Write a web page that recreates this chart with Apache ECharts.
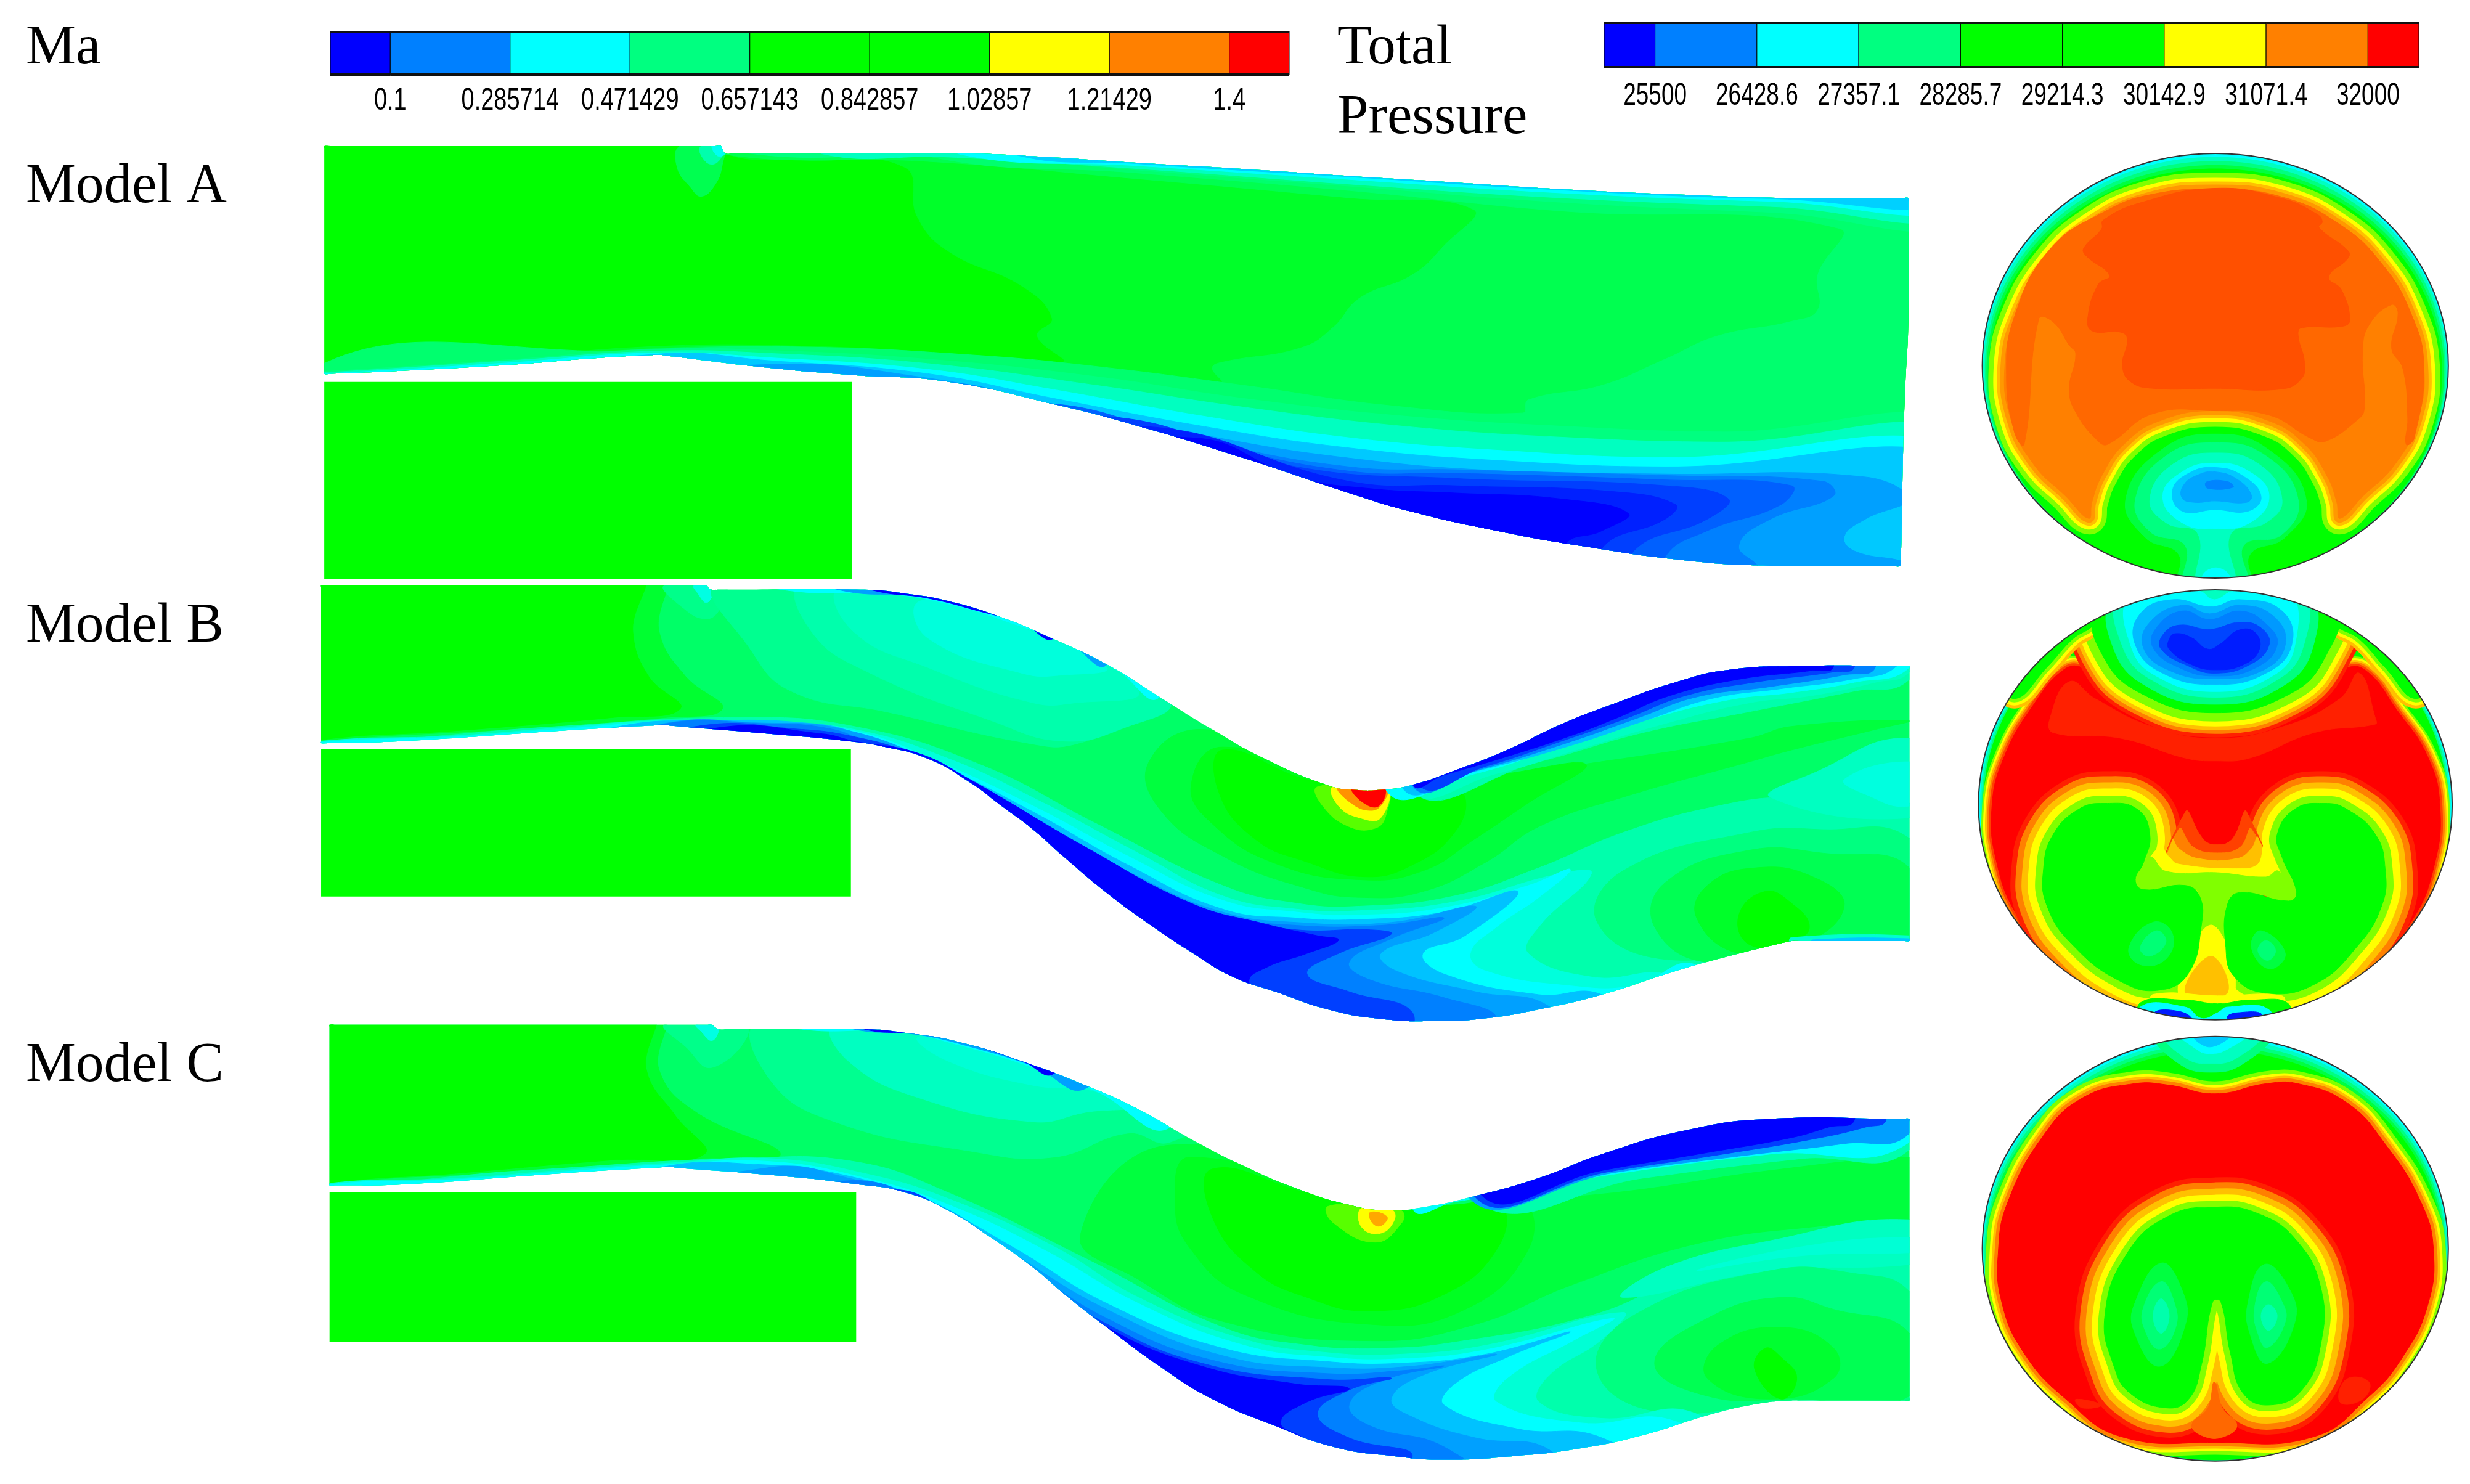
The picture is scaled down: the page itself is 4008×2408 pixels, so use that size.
<!DOCTYPE html>
<html>
<head>
<meta charset="utf-8">
<style>html,body{margin:0;background:#fff}#chart{width:4008px;height:2408px}</style>
<script src="https://cdn.jsdelivr.net/npm/echarts@6/dist/echarts.min.js"></script>
</head>
<body>
<div id="chart"></div>
<script>
// colour bars
var maTicks = [0.1, 0.285714, 0.471429, 0.657143, 0.842857, 1.02857, 1.21429, 1.4];
var ptTicks = [25500, 26428.6, 27357.1, 28285.7, 29214.3, 30142.9, 31071.4, 32000];
var barColors = ['#0000ff', '#0080ff', '#00ffff', '#00ff80', '#00ff00', '#00ff00', '#ffff00', '#ff8000', '#ff0000'];
var barValuesMa = [0.1, 0.193, 0.379, 0.564, 0.75, 0.936, 1.121, 1.307, 1.4];
var barValuesPt = [25500, 25964, 26893, 27821, 28750, 29678, 30607, 31536, 32000];
var panelLabels = [['Ma', 42, 34], ['Model A', 42, 259], ['Model B', 42, 972], ['Model C', 42, 1685], ['Total', 2170, 34], ['Pressure', 2170, 147]];

// Model A, Mach number: [Ma, contour]
var ductAWall = [[27,64],[27,57],[33,57],[398,57],[404,57],[405,66],[408,82],[416,82],[630,82],[700,92],[800,115],[900,136],[1000,160],[1100,182],[1200,205],[1300,222],[1420,236],[1525,236],[1531,236],[1531,250],[1531,650],[1528,890],[1526,1100],[1524,1480],[1523,1500],[1515,1500],[1400,1500],[1320,1482],[1220,1432],[1140,1380],[1060,1315],[1000,1250],[900,1130],[800,1020],[720,945],[620,868],[530,845],[450,820],[352,778],[345,775],[338,776],[290,785],[200,810],[100,830],[33,840],[27,840],[27,826]];
var ductAInlet = [[27,868],[528,868],[528,1545],[27,1545]];
var ductABands = [
  [0.8, [[0,0],[1600,0],[1600,1600],[0,1600]]],
  [0.69, [[408,82],[480,105],[578,130],[590,300],[620,420],[690,540],[718,650],[704,710],[728,800],[620,770],[480,745],[350,745],[200,785],[60,830],[0,900],[0,1600],[1600,1600],[1600,0],[408,0]]],
  [0.634, [[400,82],[600,110],[800,170],[1000,235],[1118,275],[1090,400],[1060,500],[1010,580],[985,680],[955,750],[880,800],[870,820],[878,870],[760,820],[640,780],[480,752],[350,752],[200,795],[60,838],[0,900],[0,1600],[1600,1600],[1600,0],[400,0]]],
  [0.59, [[600,0],[600,92],[800,150],[1000,210],[1200,280],[1465,340],[1445,500],[1445,620],[1420,660],[1350,710],[1300,790],[1240,880],[1170,930],[1165,975],[1040,950],[900,880],[760,815],[640,775],[480,748],[350,758],[0,860],[0,1600],[1600,1600],[1600,0]]],
  [0.564, [[430,0],[430,82],[620,88],[800,140],[1000,195],[1200,250],[1400,285],[1600,318],[1600,0]]],
  [0.471, [[500,0],[500,84],[620,95],[800,135],[1000,188],[1200,235],[1400,265],[1600,290],[1600,0]]],
  [0.379, [[630,0],[630,85],[800,125],[1000,172],[1200,218],[1400,247],[1600,262],[1600,0]]],
  [0.31, [[680,0],[680,84],[800,118],[1000,163],[1200,208],[1400,238],[1600,240],[1600,0]]],
  [0.564, [[27,832],[200,792],[345,755],[450,760],[600,790],[760,850],[900,925],[1050,985],[1200,1020],[1350,1040],[1600,1040],[1600,1600],[0,1600],[0,842],[0,832]]],
  [0.471, [[27,836],[200,796],[345,762],[450,770],[600,805],[760,880],[900,955],[1050,1020],[1200,1058],[1350,1075],[1600,1070],[1600,1600],[0,1600],[0,846],[0,836]]],
  [0.379, [[27,840],[200,803],[345,768],[450,785],[600,825],[720,895],[860,985],[1000,1060],[1150,1105],[1300,1128],[1600,1115],[1600,1600],[0,1600],[0,850],[0,840]]],
  [0.3, [[345,772],[450,795],[600,840],[720,925],[860,1020],[1000,1095],[1150,1140],[1300,1160],[1600,1150],[1600,1600],[0,1600],[0,930],[0,920]]],
  [0.24, [[450,808],[600,855],[720,945],[860,1050],[1000,1130],[1150,1175],[1300,1185],[1490,1195],[1530,1270],[1490,1340],[1470,1400],[1480,1450],[1530,1490],[1600,1600],[0,1600],[0,940],[0,930]]],
  [0.193, [[600,868],[720,950],[860,1070],[1000,1160],[1100,1170],[1300,1190],[1450,1210],[1460,1260],[1400,1340],[1370,1430],[1390,1510],[1400,1600],[0,1600],[0,960],[0,950]]],
  [0.17, [[700,940],[860,1075],[1000,1175],[1100,1182],[1300,1205],[1420,1225],[1410,1290],[1340,1380],[1300,1470],[1300,1600],[0,1600],[0,990],[0,980]]],
  [0.146, [[760,985],[950,1160],[1100,1200],[1300,1225],[1360,1270],[1340,1340],[1270,1450],[1270,1600],[0,1600],[0,1010],[0,1000]]],
  [0.123, [[800,1020],[1000,1210],[1100,1225],[1250,1245],[1310,1290],[1300,1340],[1240,1440],[1240,1600],[0,1600],[0,1050],[0,1040]]],
  [0.1, [[850,1060],[950,1195],[1020,1235],[1100,1250],[1200,1270],[1265,1320],[1240,1380],[1205,1430],[1205,1600],[0,1600],[0,1070],[0,1060]]],
  [0.634, [[365,57],[362,130],[375,200],[385,230],[398,190],[405,120],[405,57]]],
  [0.5, [[385,57],[385,90],[395,120],[405,90],[405,57]]],
  [0.4, [[395,50],[404,50],[408,82],[400,90]]]
];

// Model B, Mach number
var ductBWall = [[24,48],[24,42],[30,42],[385,42],[390,42],[392,50],[395,56],[402,56],[540,56],[580,70],[620,95],[670,150],[720,225],[770,310],[820,420],[870,530],[920,630],[980,720],[1005,735],[1030,735],[1060,718],[1100,670],[1150,600],[1200,515],[1250,445],[1310,370],[1360,328],[1430,315],[1526,315],[1532,315],[1532,325],[1532,1238],[1532,1248],[1526,1248],[1428,1248],[1420,1248],[1412,1254],[1360,1300],[1310,1350],[1240,1430],[1180,1480],[1130,1510],[1080,1520],[1030,1512],[980,1480],[930,1420],[890,1370],[850,1285],[810,1190],[770,1085],[730,965],[700,870],[670,790],[640,710],[600,630],[560,590],[525,570],[450,545],[357,518],[350,515],[343,516],[250,535],[100,570],[30,577],[24,577],[24,570]];
var ductBInlet = [[24,598],[527,598],[527,1097],[24,1097]];
var ductBBands = [
  [0.6, [[0,0],[1600,0],[1600,1600],[0,1600]]],
  [0.68, [[0,0],[345,0],[345,200],[370,350],[405,460],[350,490],[200,530],[24,570],[0,600]]],
  [0.75, [[0,0],[325,0],[320,200],[335,350],[365,460],[300,490],[150,535],[24,565],[0,600]]],
  [0.55, [[350,42],[365,110],[390,155],[405,110],[410,56]]],
  [0.42, [[378,42],[392,42],[396,62],[390,100],[382,70]]],
  [0.54, [[400,40],[430,250],[470,400],[560,470],[700,580],[740,580],[810,480],[840,420],[800,330],[600,40]]],
  [0.5, [[480,40],[490,200],[540,330],[660,500],[730,570],[790,520],[830,440],[760,290],[640,40]]],
  [0.47, [[515,50],[530,200],[600,320],[700,440],[740,440],[800,400],[700,170],[600,60]]],
  [0.43, [[590,100],[600,220],[690,340],[730,345],[770,320],[700,200],[640,120]]],
  [0.66, [[860,530],[810,640],[820,800],[880,960],[960,1070],[1010,1100],[1070,1080],[1130,980],[1180,860],[1260,760],[1380,640],[1420,600],[1500,530],[1532,500],[1420,520],[1380,560],[1220,650],[1060,730],[960,650]]],
  [0.71, [[880,590],[850,720],[870,850],[930,985],[1010,1040],[1070,1010],[1120,900],[1170,780],[1225,650],[1150,680],[1060,730]]],
  [0.75, [[880,600],[876,740],[910,900],[960,980],[1015,1030],[1060,990],[1100,880],[1110,760],[1090,740],[1040,735],[960,700]]],
  [1.0, [[970,725],[975,790],[1000,860],[1025,865],[1035,820],[1035,725]]],
  [1.12, [[985,725],[990,790],[1010,830],[1030,830],[1035,725]]],
  [1.28, [[990,725],[1000,775],[1020,805],[1032,780],[1035,725]]],
  [1.4, [[1003,725],[1012,775],[1028,790],[1033,725]]],
  [0.5, [[420,490],[530,520],[650,650],[760,850],[880,1060],[950,1120],[1010,1130],[1100,1095],[1180,1000],[1260,880],[1350,790],[1420,760],[1532,780],[1600,780],[1600,1600],[0,1600],[0,610],[0,600],[150,548],[250,520]]],
  [0.47, [[1532,560],[1440,680],[1400,760],[1532,830],[1600,700]]],
  [0.425, [[1532,640],[1470,700],[1490,750],[1532,790],[1600,700]]],
  [0.564, [[1380,880],[1260,1010],[1235,1180],[1300,1310],[1420,1250],[1532,1248],[1600,1250],[1532,900],[1450,870]]],
  [0.63, [[1380,940],[1300,1050],[1290,1200],[1340,1320],[1420,1250],[1532,1240],[1532,1000],[1450,950]]],
  [0.69, [[1385,1000],[1340,1060],[1330,1170],[1370,1290],[1430,1260],[1470,1130],[1440,1030]]],
  [0.75, [[1395,1080],[1370,1160],[1380,1260],[1420,1250],[1437,1200],[1420,1120]]],
  [0.43, [[24,570],[150,552],[250,525],[350,500],[450,508],[530,530],[620,630],[710,780],[800,950],[880,1095],[950,1140],[1010,1145],[1100,1115],[1200,1020],[1230,1020],[1180,1200],[1170,1290],[1230,1370],[1310,1370],[1400,1600],[0,1600],[0,610],[0,600]]],
  [0.379, [[24,574],[150,556],[250,530],[350,506],[450,515],[530,535],[610,640],[700,790],[790,960],[880,1110],[950,1150],[1010,1160],[1090,1135],[1170,1060],[1210,1005],[1180,1100],[1140,1200],[1115,1290],[1130,1350],[1210,1400],[1270,1400],[1330,1330],[1400,1600],[0,1600],[0,610],[0,600]]],
  [0.29, [[300,525],[400,500],[490,510],[530,540],[610,650],[700,810],[790,990],[880,1140],[950,1170],[1010,1175],[1090,1150],[1160,1080],[1110,1230],[1070,1290],[1090,1360],[1180,1430],[1240,1430],[1300,1600],[0,1600],[0,810],[0,800]]],
  [0.24, [[350,510],[440,508],[520,530],[610,650],[700,830],[800,1030],[880,1150],[950,1185],[1040,1185],[1120,1130],[1080,1220],[1030,1290],[1045,1350],[1120,1420],[1190,1470],[1200,1600],[0,1600],[0,810],[0,800]]],
  [0.193, [[350,512],[440,510],[510,530],[550,590],[620,670],[700,850],[800,1050],[880,1160],[950,1195],[1030,1195],[1090,1170],[1040,1240],[1000,1320],[1020,1380],[1090,1440],[1140,1510],[1100,1600],[0,1600],[0,810],[0,800]]],
  [0.146, [[380,520],[480,530],[530,555],[580,605],[625,680],[690,830],[790,1060],[870,1160],[950,1210],[1020,1210],[1040,1225],[990,1290],[960,1360],[1000,1420],[1060,1490],[1040,1600],[0,1600],[0,810],[0,800]]],
  [0.1, [[400,525],[500,545],[530,570],[590,610],[640,700],[750,930],[850,1120],[920,1190],[970,1230],[990,1245],[960,1290],[920,1340],[905,1390],[930,1600],[0,1600],[0,810],[0,800]]],
  [0.5, [[1060,735],[1180,640],[1280,540],[1380,470],[1480,400],[1532,360],[1600,0],[1030,0]]],
  [0.47, [[1060,732],[1140,680],[1220,595],[1300,510],[1380,440],[1440,415],[1500,370],[1532,335],[1600,0],[1030,0]]],
  [0.379, [[1035,735],[1120,680],[1200,590],[1280,500],[1360,430],[1420,405],[1480,370],[1532,320],[1600,0],[1000,0]]],
  [0.29, [[1050,725],[1120,672],[1210,585],[1285,495],[1345,425],[1410,392],[1480,358],[1520,315],[1600,0],[1000,0]]],
  [0.193, [[1060,720],[1125,665],[1205,578],[1275,490],[1330,420],[1400,385],[1470,345],[1500,315],[1500,0],[1000,0]]],
  [0.146, [[1065,712],[1130,655],[1200,572],[1265,490],[1320,415],[1385,370],[1460,335],[1480,315],[1480,0],[1000,0]]],
  [0.1, [[1060,715],[1090,685],[1150,622],[1210,552],[1255,490],[1305,415],[1370,360],[1440,330],[1460,315],[1460,0],[1000,0]]],
  [0.379, [[470,60],[560,70],[620,105],[680,170],[730,240],[780,330],[820,420],[880,0],[400,0]]],
  [0.24, [[520,60],[590,78],[640,115],[690,175],[735,240],[770,310],[800,0],[480,0]]],
  [0.1, [[550,60],[600,85],[650,130],[690,170],[720,220],[760,0],[500,0]]],
  [0.45, [[1420,1236],[1532,1230],[1600,1260],[1420,1260]]],
  [0.3, [[1440,1244],[1532,1240],[1600,1260],[1440,1260]]]
];

// Model C, Mach number
var ductCWall = [[32,54],[32,47],[38,47],[390,47],[395,47],[398,55],[402,62],[410,62],[540,62],[580,75],[630,105],[690,170],[750,250],[800,330],[850,430],[900,520],[950,595],[1000,650],[1035,668],[1070,658],[1120,620],[1180,560],[1240,480],[1320,400],[1400,362],[1526,362],[1532,362],[1532,372],[1532,1295],[1532,1305],[1526,1305],[1428,1305],[1420,1305],[1390,1315],[1340,1355],[1280,1420],[1220,1465],[1160,1490],[1090,1503],[1040,1490],[985,1460],[930,1390],[870,1300],[820,1190],[770,1060],[730,950],[700,860],[660,760],[620,670],[580,610],[530,580],[450,550],[362,526],[355,523],[348,524],[250,545],[100,582],[38,585],[32,585],[32,578]];
var ductCInlet = [[32,607],[532,607],[532,1110],[32,1110]];
var ductCBands = [
  [0.6, [[0,0],[1600,0],[1600,1600],[0,1600]]],
  [0.68, [[0,0],[345,0],[345,200],[380,340],[460,480],[380,495],[200,540],[32,580],[0,620]]],
  [0.75, [[0,0],[335,0],[333,200],[360,350],[388,480],[300,500],[150,545],[32,578],[0,620]]],
  [0.55, [[350,47],[370,120],[395,190],[430,70],[405,47]]],
  [0.42, [[380,47],[400,47],[402,62],[395,100],[385,70]]],
  [0.54, [[440,40],[450,230],[510,370],[640,470],[720,490],[790,410],[830,440],[880,300],[700,40]]],
  [0.47, [[510,50],[525,170],[590,290],[700,372],[750,340],[800,310],[700,130],[600,60]]],
  [0.44, [[590,90],[620,170],[700,250],[745,260],[770,280],[700,170],[640,110]]],
  [0.66, [[830,450],[745,750],[800,900],[880,1040],[1020,1105],[1120,1050],[1210,920],[1330,780],[1450,720],[1532,700],[1600,500],[1532,490],[1400,535],[1250,610],[1100,650],[1040,668]]],
  [0.7, [[850,490],[835,650],[850,800],[900,950],[1020,1050],[1110,1000],[1170,800],[1165,640],[1100,650],[1040,668]]],
  [0.75, [[870,530],[870,690],[910,870],[960,960],[1020,1005],[1090,950],[1140,800],[1145,655],[1100,650],[1040,668],[960,610]]],
  [1.0, [[980,655],[985,710],[1025,775],[1050,710],[1050,670],[1030,660]]],
  [1.12, [[1012,660],[1012,725],[1030,745],[1043,700],[1040,665]]],
  [1.25, [[1020,675],[1022,710],[1030,720],[1036,690]]],
  [0.5, [[420,495],[530,505],[620,610],[750,830],[880,1060],[960,1120],[1030,1130],[1100,1110],[1230,1020],[1330,880],[1450,800],[1532,760],[1600,760],[1600,1600],[0,1600],[0,630],[0,620],[150,555],[250,528]]],
  [0.47, [[1532,700],[1400,770],[1300,860],[1260,960],[1400,870],[1532,850],[1600,800]]],
  [0.44, [[1532,760],[1430,790],[1330,870],[1430,820],[1532,810],[1600,790]]],
  [0.564, [[1400,870],[1270,1020],[1235,1200],[1290,1340],[1420,1305],[1532,1305],[1600,1305],[1532,940],[1480,880]]],
  [0.63, [[1410,960],[1340,1030],[1290,1180],[1340,1290],[1420,1300],[1532,1290],[1532,1080],[1460,1000]]],
  [0.68, [[1410,1060],[1350,1120],[1340,1230],[1400,1300],[1460,1230],[1460,1130]]],
  [0.75, [[1395,1130],[1385,1200],[1410,1300],[1425,1230],[1410,1160]]],
  [0.44, [[32,578],[150,562],[250,535],[355,510],[450,495],[540,545],[620,630],[720,790],[800,960],[900,1100],[980,1145],[1050,1150],[1130,1120],[1260,1010],[1240,1100],[1190,1220],[1180,1310],[1240,1365],[1330,1350],[1400,1600],[0,1600],[0,630],[0,620]]],
  [0.379, [[32,582],[150,566],[250,540],[355,515],[450,505],[540,560],[620,650],[710,800],[800,980],[900,1120],[980,1160],[1050,1165],[1130,1135],[1250,1030],[1215,1100],[1150,1230],[1140,1310],[1220,1380],[1310,1375],[1400,1600],[0,1600],[0,630],[0,620]]],
  [0.29, [[350,522],[440,515],[520,550],[600,640],[680,790],[770,980],[880,1130],[980,1175],[1050,1180],[1130,1150],[1210,1075],[1150,1160],[1100,1250],[1090,1320],[1160,1400],[1240,1430],[1300,1600],[0,1600],[0,810],[0,800]]],
  [0.24, [[450,525],[530,565],[610,650],[680,810],[770,1000],[880,1155],[980,1195],[1060,1190],[1140,1150],[1070,1220],[1040,1300],[1060,1360],[1120,1430],[1190,1470],[1200,1600],[0,1600],[0,830],[0,820]]],
  [0.193, [[520,570],[620,690],[690,850],[770,1030],[870,1170],[980,1215],[1050,1205],[1090,1190],[1030,1240],[1000,1320],[1020,1390],[1090,1460],[1130,1600],[0,1600],[0,860],[0,850]]],
  [0.146, [[560,600],[630,700],[700,880],[760,1030],[860,1180],[980,1235],[1040,1230],[1000,1270],[970,1350],[1000,1430],[1060,1490],[1000,1600],[0,1600],[0,870],[0,860]]],
  [0.1, [[610,680],[660,780],[710,900],[770,1060],[860,1190],[950,1250],[1000,1265],[960,1310],[935,1380],[960,1450],[960,1600],[0,1600],[0,890],[0,880]]],
  [0.5, [[1120,640],[1280,560],[1430,495],[1532,465],[1600,0],[1030,0]]],
  [0.379, [[1060,660],[1100,640],[1250,548],[1400,480],[1532,440],[1600,0],[1030,0]]],
  [0.24, [[1115,630],[1250,543],[1370,487],[1470,445],[1532,410],[1600,0],[1100,0]]],
  [0.146, [[1120,625],[1245,540],[1350,483],[1440,430],[1490,390],[1510,362],[1510,0],[1100,0]]],
  [0.1, [[1125,615],[1240,535],[1340,475],[1420,425],[1455,390],[1480,362],[1480,0],[1100,0]]],
  [0.379, [[480,62],[570,70],[630,115],[700,190],[760,270],[830,390],[880,0],[400,0]]],
  [0.24, [[530,62],[590,80],[640,120],[700,185],[750,260],[800,0],[480,0]]],
  [0.1, [[540,62],[590,78],[635,108],[690,170],[720,210],[760,0],[500,0]]]
];

// section outlines and wall layers: [total pressure, cx, cy, rx, ry]
var sectionAWall = [[26893,793,770,723,730],[27357,793,776,720,724],[27821,793,783,715,717],[28285,793,790,710,710],[28750,793,796,704,704]];
var sectionBWall = [[26893,793,775,735,760],[27357,793,775,730,758],[27821,793,775,725,755],[28750,793,775,720,752]];
var sectionCWall = [[26893,793,765,723,740],[27357,793,770,720,734],[27821,793,776,716,727],[28285,793,782,712,720],[28750,793,788,708,714]];

// section A contours
var rimA = [[793,162],[1000,190],[1180,285],[1310,420],[1400,590],[1440,770],[1420,960],[1350,1110],[1250,1220],[1180,1295],[1170,1240],[1140,1150],[1070,1040],[960,960],[793,925],[620,960],[510,1040],[440,1150],[410,1240],[400,1295],[330,1220],[230,1110],[160,960],[140,770],[180,590],[270,420],[400,285],[580,190]];
var plateauA = [[793,165],[1000,190],[1180,285],[1310,420],[1400,590],[1440,770],[1410,1020],[1385,1040],[1390,950],[1375,780],[1340,710],[1360,590],[1340,560],[1270,630],[1250,720],[1255,920],[1230,960],[1135,1030],[1090,1020],[960,940],[793,925],[600,935],[460,1040],[430,1030],[360,930],[340,850],[360,730],[340,700],[290,620],[245,610],[200,1040],[170,1000],[145,800],[170,600],[280,370],[450,240],[600,180]];
var coreA = [[793,160],[1000,195],[1110,250],[1125,275],[1115,295],[1205,375],[1205,400],[1145,465],[1185,510],[1210,615],[1185,635],[1060,640],[1050,665],[1070,760],[1060,815],[1000,850],[793,848],[600,848],[530,825],[505,770],[520,680],[500,655],[410,650],[398,600],[430,490],[465,460],[390,390],[385,365],[440,300],[445,270],[560,210]];
var sectionABands = [
  [30143, rimA, 26], [30607, rimA, 18], [31071, rimA, 12], [31350, rimA, 7], [31536, rimA, 0],
  [31623, plateauA, 0], [31710, coreA, 0],
  [28285, [[793,1005],[960,1060],[1075,1230],[1010,1360],[900,1420],[900,1540],[680,1540],[680,1420],[575,1360],[515,1230],[625,1060]], 0],
  [27821, [[793,1035],[950,1080],[1050,1230],[1000,1350],[880,1390],[890,1540],[700,1540],[700,1390],[590,1340],[545,1230],[640,1080]], 0],
  [27357, [[793,1070],[930,1110],[1000,1230],[950,1310],[840,1350],[850,1540],[740,1540],[740,1350],[640,1310],[590,1230],[660,1110]], 0],
  [26893, [[793,1105],[900,1135],[960,1220],[900,1310],[793,1330],[690,1310],[630,1220],[690,1135]], 0],
  [26893, [[750,1500],[775,1470],[815,1470],[840,1500],[840,1540],[750,1540]], 0],
  [26500, [[793,1120],[880,1150],[935,1220],[895,1270],[793,1265],[690,1270],[660,1200],[710,1140]], 0],
  [26250, [[793,1135],[860,1160],[905,1215],[890,1240],[790,1235],[730,1240],[690,1225],[695,1180],[740,1145]], 0],
  [25990, [[765,1170],[830,1168],[848,1188],[770,1192]], 0]
];

// section B contours
var rimB = [[1270,310],[1350,430],[1450,600],[1490,780],[1470,1000],[1400,1190],[1280,1340],[1100,1460],[793,1500],[480,1460],[300,1340],[180,1170],[115,980],[100,780],[140,600],[230,420],[320,300],[380,290],[793,500],[1205,290]];
var lobeB = [[430,100],[440,240],[560,380],[793,450],[1030,380],[1140,240],[1160,100],[793,-50]];
var cornerBL = [[170,400],[270,290],[350,190],[420,130],[420,40],[300,80],[120,300]];
var cornerBR = [[1415,400],[1320,290],[1240,190],[1160,130],[1160,40],[1290,80],[1470,300]];
var kidneyBL = [[450,770],[550,790],[590,880],[570,980],[545,1040],[570,1075],[700,1060],[745,1100],[750,1200],[710,1370],[620,1430],[500,1400],[350,1270],[270,1130],[260,1000],[290,880],[370,790]];
var kidneyBR = [[1130,770],[1040,790],[985,880],[1000,960],[1045,1085],[1020,1115],[870,1085],[830,1130],[825,1270],[850,1380],[950,1440],[1100,1410],[1230,1280],[1310,1130],[1320,1000],[1290,880],[1200,790]];
var sectionBBands = [
  [30143, rimB, 16], [30607, rimB, 13], [31071, rimB, 10], [31536, rimB, 7], [31768, rimB, 4], [32000, rimB, 0],
  [31884, [[290,520],[280,470],[340,340],[420,400],[600,500],[793,540],[1000,500],[1180,400],[1240,310],[1290,470],[1290,490],[1100,520],[900,610],[793,620],[700,610],[500,540]], 0],
  [31884, lobeB, 40], [31536, lobeB, 34], [31071, lobeB, 28], [30607, lobeB, 22], [30143, lobeB, 14],
  [31071, cornerBL, 16], [31071, cornerBR, 16], [30607, cornerBL, 11], [30607, cornerBR, 11],
  [30143, cornerBL, 6], [30143, cornerBR, 6], [28750, cornerBL, 0], [28750, cornerBR, 0],
  [28750, lobeB, 0],
  [27821, [[480,60],[470,200],[570,350],[793,420],[1010,350],[1100,200],[1080,40],[793,-10]], 0],
  [27357, [[500,50],[500,200],[590,330],[793,395],[990,330],[1070,200],[1060,40],[793,-10]], 0],
  [26893, [[530,40],[530,210],[610,320],[793,375],[970,320],[1040,210],[1020,20],[850,20],[790,50],[740,20]], 0],
  [26400, [[560,100],[545,210],[630,310],[793,350],[950,310],[1030,210],[1000,90],[870,50],[780,75],[660,50]], 0],
  [26150, [[590,130],[570,220],[650,300],[793,330],[940,300],[1010,210],[975,110],[870,70],[775,100],[690,70]], 0],
  [25964, [[610,150],[600,220],[680,290],[793,320],[920,290],[985,210],[950,135],[870,90],[775,120],[690,90]], 0],
  [25750, [[630,175],[625,225],[710,285],[793,310],[900,280],[960,210],[935,150],[870,130],[775,155],[680,140]], 0],
  [25600, [[650,190],[650,225],[720,280],[793,298],[880,280],[930,225],[915,165],[865,158],[810,205],[770,225],[720,185],[670,170]], 0],
  [31884, kidneyBL, 52], [31884, kidneyBR, 52], [31536, kidneyBL, 44], [31536, kidneyBR, 44],
  [31071, kidneyBL, 34], [31071, kidneyBR, 34], [30607, kidneyBL, 24], [30607, kidneyBR, 24],
  [30143, kidneyBL, 12], [30143, kidneyBR, 12],
  [31768, [[700,800],[745,880],[770,910],[800,915],[830,910],[855,880],[890,800],[950,1100],[640,1100]], 0],
  [31536, [[680,860],[725,925],[800,945],[870,925],[905,860],[960,1080],[640,1080]], 0],
  [31071, [[660,900],[680,930],[740,965],[860,965],[905,930],[925,890],[960,1080],[640,1080]], 0],
  [30607, [[620,920],[650,960],[680,985],[860,1000],[925,985],[945,920],[985,1060],[570,1060]], 0],
  [30143, [[590,960],[640,1010],[800,1015],[950,1030],[990,1010],[1040,1110],[870,1085],[830,1130],[820,1400],[740,1400],[745,1100],[700,1060],[570,1075],[545,1040]], 0],
  [30607, [[780,1200],[850,1450],[680,1450]], 0],
  [31071, [[780,1310],[830,1440],[700,1440]], 0],
  [28750, kidneyBL, 0], [28750, kidneyBR, 0],
  [28285, [[525,1280],[600,1190],[660,1230],[640,1320],[560,1340]], 0],
  [27900, [[560,1280],[610,1220],[640,1260],[590,1310]], 0],
  [28285, [[905,1280],[935,1220],[1010,1300],[960,1355]], 0],
  [27900, [[925,1290],[950,1255],[980,1290],[955,1325]], 0],
  [30607, [[600,1445],[800,1450],[1000,1450],[1000,1490],[800,1490],[600,1490]], 0],
  [28750, [[560,1475],[700,1465],[800,1478],[900,1465],[1020,1478],[1000,1560],[580,1560]], 0],
  [26893, [[560,1490],[700,1490],[750,1530],[800,1510],[830,1490],[960,1500],[960,1600],[560,1600]], 0],
  [25600, [[600,1515],[680,1505],[720,1540],[640,1600]], 0],
  [25600, [[830,1530],[860,1510],[940,1520],[900,1600]], 0]
];

// section C contours
var rimC = [[793,225],[950,190],[1050,190],[1200,255],[1320,400],[1430,600],[1470,770],[1450,970],[1370,1150],[1270,1280],[1100,1420],[793,1440],[500,1420],[330,1290],[200,1130],[130,950],[120,770],[150,600],[260,370],[380,240],[540,190],[650,195]];
var lobeC = [[793,620],[650,650],[520,780],[450,1000],[480,1180],[530,1270],[640,1320],[710,1290],[750,1170],[785,950],[810,950],[840,1130],[880,1270],[960,1310],[1060,1260],[1120,1100],[1120,900],[1040,730],[920,640]];
var sectionCBands = [
  [27821, [[610,20],[680,120],[780,150],[880,120],[960,20]], 0],
  [27357, [[640,20],[700,100],[780,120],[860,100],[930,20]], 0],
  [26893, [[680,10],[735,70],[775,85],[830,70],[895,10]], 0],
  [26500, [[720,10],[775,62],[845,10]], 0],
  [30143, rimC, 20], [30607, rimC, 14], [31071, rimC, 10], [31536, rimC, 6], [32000, rimC, 0],
  [31884, lobeC, 48], [31536, lobeC, 40], [31071, lobeC, 30], [30607, lobeC, 20], [30143, lobeC, 10], [28750, lobeC, 0],
  [28285, [[625,815],[545,950],[540,1050],[620,1175],[700,1030],[690,910]], 0],
  [27900, [[625,880],[570,970],[575,1050],[620,1115],[670,1040],[665,950]], 0],
  [27500, [[625,940],[600,1000],[625,1060],[650,1000]], 0],
  [28285, [[945,820],[895,950],[900,1060],[955,1165],[1040,1020],[1020,900]], 0],
  [27900, [[950,880],[915,970],[925,1060],[955,1110],[1010,1020],[1000,950]], 0],
  [27500, [[958,960],[935,1000],[958,1050],[985,1000]], 0],
  [31623, [[790,1230],[770,1320],[720,1380],[760,1420],[820,1420],[860,1380],[815,1320]], 0],
  [31884, [[360,1290],[440,1310],[380,1320]], 0],
  [31884, [[1200,1220],[1270,1230],[1250,1290],[1180,1300]], 0]
];

var wallDomain = 1568;
var chart = echarts.init(document.getElementById('chart'));

function stopColor(stops, value) {
  if (value <= stops[0][0]) return stops[0][1];
  for (var i = 1; i < stops.length; i++) {
    if (value <= stops[i][0]) {
      var t = (value - stops[i - 1][0]) / (stops[i][0] - stops[i - 1][0]);
      return echarts.color.lerp(t, [stops[i - 1][1], stops[i][1]]);
    }
  }
  return stops[stops.length - 1][1];
}
var maStops = barValuesMa.map(function (v, i) { return [v, barColors[i]]; });
var ptStops = barValuesPt.map(function (v, i) { return [v, barColors[i]]; });

function panel(left, top, width, height, xMin, xMax) {
  return {
    grid: { left: left, top: top, width: width, height: height, containLabel: false },
    xAxis: { type: 'value', show: false, min: xMin, max: xMax, scale: true },
    yAxis: { type: 'value', show: false, min: 0, max: wallDomain, inverse: true }
  };
}

function polygonClip(api, pts) {
  return { type: 'polygon', shape: { points: pts.map(function (p) { return api.coord(p); }), smooth: 0.5 } };
}
function ellipseClip(api, e) {
  var c = api.coord([e[1], e[2]]), s = api.size([e[3], e[4]]);
  return { type: 'ellipse', shape: { cx: c[0], cy: c[1], rx: s[0], ry: s[1] } };
}

function bandSeries(index, bands, stops, clipOf) {
  return {
    type: 'custom', xAxisIndex: index, yAxisIndex: index, silent: true, animation: false,
    data: bands.map(function (b, i) { return [i, 0]; }),
    renderItem: function (params, api) {
      var b = bands[params.dataIndex];
      var c = stopColor(stops, b[0]);
      return {
        type: 'polygon',
        shape: { points: b[1].map(function (p) { return api.coord(p); }), smooth: 0.45 },
        style: { fill: c, stroke: c, lineWidth: Math.max(1, 2 * (b[2] || 0)), lineJoin: 'round' },
        clipPath: clipOf(api)
      };
    }
  };
}

function inletSeries(index, pts) {
  return {
    type: 'custom', xAxisIndex: index, yAxisIndex: index, silent: true, animation: false,
    data: [[0, 0]],
    renderItem: function (params, api) {
      return {
        type: 'polygon',
        shape: { points: pts.map(function (p) { return api.coord(p); }) },
        style: { fill: stopColor(maStops, 0.8) }
      };
    }
  };
}

function wallSeries(index, walls) {
  return {
    type: 'custom', xAxisIndex: index, yAxisIndex: index, silent: true, animation: false,
    data: walls.map(function (w, i) { return [i, 0]; }),
    renderItem: function (params, api) {
      var w = walls[params.dataIndex];
      return {
        type: 'ellipse',
        shape: ellipseClip(api, w).shape,
        style: { fill: stopColor(ptStops, w[0]) },
        clipPath: ellipseClip(api, walls[0])
      };
    }
  };
}

function outlineSeries(index, wall) {
  return {
    type: 'custom', xAxisIndex: index, yAxisIndex: index, silent: true, animation: false, z: 5,
    data: [[0, 0]],
    renderItem: function (params, api) {
      return {
        type: 'ellipse',
        shape: ellipseClip(api, wall).shape,
        style: { fill: 'none', stroke: '#333', lineWidth: 2 }
      };
    }
  };
}

function barSeries(index, ticks, first, last, digitsX, labelGap) {
  var edges = [first].concat(ticks, [last]);
  return {
    type: 'custom', xAxisIndex: index, yAxisIndex: index, silent: true, animation: false,
    data: barColors.map(function (c, i) { return [i, 0]; }),
    renderItem: function (params, api) {
      var i = params.dataIndex;
      var a = api.coord([edges[i], 0]), b = api.coord([edges[i + 1], wallDomain]);
      var kids = [{
        type: 'rect',
        shape: { x: a[0], y: a[1], width: b[0] - a[0], height: b[1] - a[1] },
        style: { fill: barColors[i], stroke: '#000', lineWidth: 1 }
      }, {
        type: 'line', shape: { x1: a[0], y1: a[1] + 1, x2: b[0], y2: a[1] + 1 }, style: { stroke: '#111', lineWidth: 4 }
      }, {
        type: 'line', shape: { x1: a[0], y1: b[1] - 1, x2: b[0], y2: b[1] - 1 }, style: { stroke: '#111', lineWidth: 4 }
      }];
      if (i < ticks.length) {
        var t = api.coord([ticks[i], wallDomain]);
        kids.push({
          type: 'text', x: t[0], y: t[1] + labelGap, scaleX: digitsX,
          style: { text: String(ticks[i]), fontFamily: 'Liberation Sans', fontSize: 50, fill: '#000', textAlign: 'center', textVerticalAlign: 'top' }
        });
      }
      return { type: 'group', children: kids };
    }
  };
}

var panels = [
  panel(480, 210, 2680, 740, 0, wallDomain),
  panel(480, 930, 2680, 750, 0, wallDomain),
  panel(480, 1640, 2680, 760, 0, wallDomain),
  panel(3180, 230, 820, 740, 0, wallDomain),
  panel(3180, 950, 820, 720, 0, wallDomain),
  panel(3180, 1670, 820, 730, 0, wallDomain),
  panel(536, 51, 1556, 71, 0.1 - 0.0929, 1.4 + 0.0929),
  panel(2603, 36, 1322, 74, 25500 - 464.3, 32000 + 464.3)
];

function polyClip(wall) { return function (api) { return polygonClip(api, wall); }; }
function ovalClip(wall) { return function (api) { return ellipseClip(api, wall); }; }

chart.setOption({
  animation: false,
  backgroundColor: '#fff',
  grid: panels.map(function (p) { return p.grid; }),
  xAxis: panels.map(function (p, i) { return Object.assign({ gridIndex: i }, p.xAxis); }),
  yAxis: panels.map(function (p, i) { return Object.assign({ gridIndex: i }, p.yAxis); }),
  graphic: panelLabels.map(function (l) {
    return {
      type: 'text', x: l[1], y: l[2],
      style: { text: l[0], fontFamily: 'Liberation Serif', fontSize: 91, fill: '#000' }
    };
  }),
  series: [
    bandSeries(0, ductABands, maStops, polyClip(ductAWall)), inletSeries(0, ductAInlet),
    bandSeries(1, ductBBands, maStops, polyClip(ductBWall)), inletSeries(1, ductBInlet),
    bandSeries(2, ductCBands, maStops, polyClip(ductCWall)), inletSeries(2, ductCInlet),
    wallSeries(3, sectionAWall), bandSeries(3, sectionABands, ptStops, ovalClip(sectionAWall[0])), outlineSeries(3, sectionAWall[0]),
    wallSeries(4, sectionBWall), bandSeries(4, sectionBBands, ptStops, ovalClip(sectionBWall[0])), outlineSeries(4, sectionBWall[0]),
    wallSeries(5, sectionCWall), bandSeries(5, sectionCBands, ptStops, ovalClip(sectionCWall[0])), outlineSeries(5, sectionCWall[0]),
    barSeries(6, maTicks, 0.1 - 0.0929, 1.4 + 0.0929, 0.76, 17),
    barSeries(7, ptTicks, 25500 - 464.3, 32000 + 464.3, 0.74, 21)
  ]
});
</script>
</body>
</html>
